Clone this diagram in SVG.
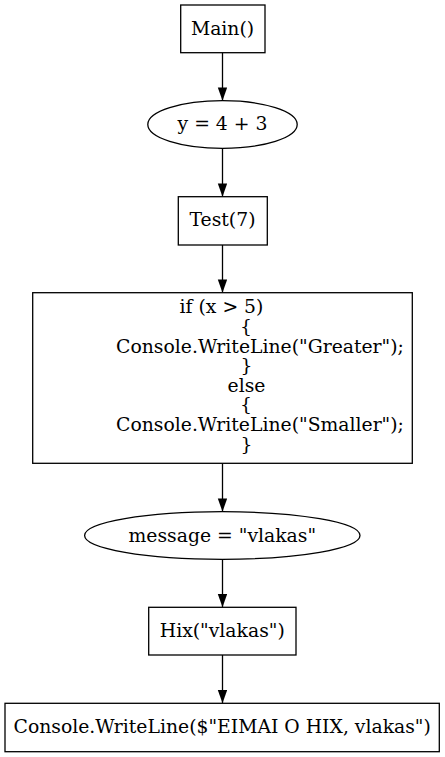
<svg xmlns="http://www.w3.org/2000/svg" width="445" height="757" viewBox="0 0 445 757">
<style>
.n{fill:#fff;stroke:#000;stroke-width:1.3}
text{font-family:"DejaVu Serif","Liberation Serif",serif;font-size:18.8px;fill:#000;text-anchor:middle}
.e{stroke:#000;stroke-width:1.3;fill:none}
</style>
<defs>
<marker id="a" markerUnits="userSpaceOnUse" markerWidth="14" markerHeight="10" refX="13.3" refY="4.7" orient="auto">
<path d="M0,0 L13.3,4.7 L0,9.4 Z" fill="#000"/>
</marker>
</defs>
<rect width="445" height="757" fill="#fff"/>
<g id="connectors">
<line class="e" x1="222.5" y1="52.7" x2="222.5" y2="100.7" marker-end="url(#a)"/>
<line class="e" x1="222.5" y1="148.3" x2="222.5" y2="196.7" marker-end="url(#a)"/>
<line class="e" x1="222.5" y1="245" x2="222.5" y2="292.7" marker-end="url(#a)"/>
<line class="e" x1="222.5" y1="463.3" x2="222.5" y2="511.7" marker-end="url(#a)"/>
<line class="e" x1="222.5" y1="559.3" x2="222.5" y2="607.3" marker-end="url(#a)"/>
<line class="e" x1="222.5" y1="655" x2="222.5" y2="703.3" marker-end="url(#a)"/>
</g>
<g id="main">
<rect class="n" x="180.7" y="5" width="84.3" height="47.7"/>
<text x="222.5" y="35">Main()</text>
</g>
<g id="y">
<ellipse class="n" cx="222.5" cy="124.5" rx="74.7" ry="23.8"/>
<text x="222.5" y="130">y = 4 + 3</text>
</g>
<g id="test">
<rect class="n" x="178.3" y="196.7" width="89" height="48.3"/>
<text x="222.5" y="226">Test(7)</text>
</g>
<g id="ifelse">
<rect class="n" x="32.7" y="292.7" width="379.6" height="170.6"/>
<text x="221.5" y="313.3">if (x &gt; 5)</text>
<text x="246" y="332.9">{</text>
<text x="260" y="352.5">Console.WriteLine("Greater");</text>
<text x="246.5" y="372.1">}</text>
<text x="246.5" y="391.7">else</text>
<text x="246" y="411.3">{</text>
<text x="260" y="430.9">Console.WriteLine("Smaller");</text>
<text x="246.5" y="450.5">}</text>
</g>
<g id="message">
<ellipse class="n" cx="222.3" cy="535.5" rx="137.7" ry="23.8"/>
<text x="222.3" y="541.7">message = "vlakas"</text>
</g>
<g id="hix">
<rect class="n" x="148.7" y="607.3" width="147.3" height="47.7"/>
<text x="222.3" y="637.3">Hix("vlakas")</text>
</g>
<g id="console">
<rect class="n" x="5" y="703.3" width="434.3" height="48.4"/>
<text x="222.2" y="733.3">Console.WriteLine($"EIMAI O HIX, vlakas")</text>
</g>
</svg>
